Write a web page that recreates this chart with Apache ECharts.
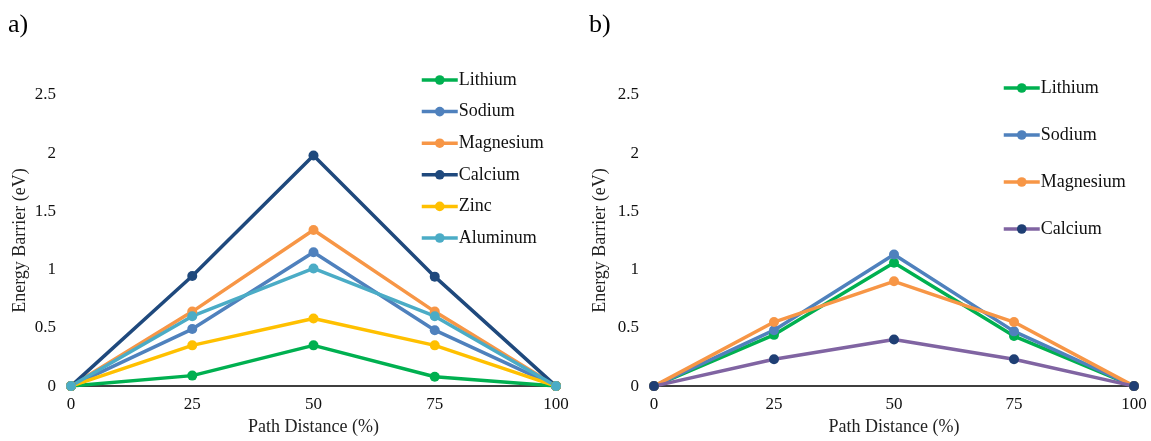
<!DOCTYPE html>
<html><head><meta charset="utf-8">
<script src="https://cdn.jsdelivr.net/npm/echarts@6/dist/echarts.min.js"></script>
<style>html,body{margin:0;padding:0;background:#fff}#c{width:1151px;height:441px}</style>
</head><body><div id="c"></div>
<script>
const xValues = [0, 25, 50, 75, 100];
// Panel a
const aLithium   = [0, 0.09, 0.35, 0.08, 0];
const aSodium    = [0, 0.49, 1.15, 0.48, 0];
const aMagnesium = [0, 0.64, 1.34, 0.64, 0];
const aCalcium   = [0, 0.945, 1.98, 0.94, 0];
const aZinc      = [0, 0.35, 0.58, 0.35, 0];
const aAluminum  = [0, 0.60, 1.01, 0.60, 0];
// Panel b
const bLithium   = [0, 0.44, 1.06, 0.43, 0];
const bSodium    = [0, 0.48, 1.13, 0.47, 0];
const bMagnesium = [0, 0.55, 0.90, 0.55, 0];
const bCalcium   = [0, 0.23, 0.40, 0.23, 0];
const yTicks = {min: 0, max: 2.5, interval: 0.5};
const xTicks = {min: 0, max: 100, interval: 25};

const FONT = '"Liberation Serif", "Times New Roman", serif';
const C = {Lithium:'#00B050', Sodium:'#4F81BD', Magnesium:'#F79646', Calcium:'#1F497D', Zinc:'#FFC000', Aluminum:'#4BACC6', Purple:'#8064A2', Navy:'#1F3F74'};

function pairs(vals){ return xValues.map((x,i)=>[x, vals[i]]); }
function mk(name, vals, idx, lineColor, markColor){
  return {
    name: name, type: 'line', xAxisIndex: idx, yAxisIndex: idx,
    data: pairs(vals), symbol: 'circle', symbolSize: 10,
    lineStyle: {width: 3.5, color: lineColor},
    itemStyle: {color: markColor || lineColor},
    emphasis: {disabled: true}, animation: false
  };
}
function xAx(idx){
  return {gridIndex: idx, type:'value', min:xTicks.min, max:xTicks.max, interval:xTicks.interval,
    axisLine:{show:true, onZero:false, lineStyle:{color:'#000', width:1.5}}, axisTick:{show:false}, splitLine:{show:false},
    axisLabel:{fontFamily:FONT, fontSize:17, color:'#111', margin:10},
    name:'Path Distance (%)', nameLocation:'middle', nameGap:28,
    nameTextStyle:{fontFamily:FONT, fontSize:18, color:'#222'}};
}
function yAx(idx, gap){
  return {gridIndex: idx, type:'value', min:yTicks.min, max:yTicks.max, interval:yTicks.interval,
    axisLine:{show:false}, axisTick:{show:false}, splitLine:{show:false},
    axisLabel:{fontFamily:FONT, fontSize:17, color:'#111', margin:15},
    name:'Energy Barrier (eV)', nameLocation:'middle', nameGap:gap,
    nameTextStyle:{fontFamily:FONT, fontSize:18, color:'#222'}};
}
const strip = n => n.replace(/^b:/, '');
const option = {
  backgroundColor:'#fff', animation:false,
  graphic:[
    {type:'text', left:8, top:12, style:{text:'a)', font:'26px ' + FONT, fill:'#000'}},
    {type:'text', left:589, top:12, style:{text:'b)', font:'26px ' + FONT, fill:'#000'}}
  ],
  grid:[
    {left:71, right:595, top:95, bottom:46},
    {left:654, right:17, top:95, bottom:46}
  ],
  xAxis:[xAx(0), xAx(1)],
  yAxis:[yAx(0, 42), yAx(1, 45)],
  legend:[
    {orient:'vertical', left:420, top:71, padding:0, itemWidth:36, itemHeight:12, itemGap:13.6,
     lineStyle:{width:3.5}, itemStyle:{borderWidth:0},
     data:['Lithium','Sodium','Magnesium','Calcium','Zinc','Aluminum'],
     textStyle:{fontFamily:FONT, fontSize:18, color:'#111', padding:[0,0,0,-4]}, selectedMode:false},
    {orient:'vertical', left:1002, top:79, padding:0, itemWidth:36, itemHeight:12, itemGap:29,
     lineStyle:{width:3.5}, itemStyle:{borderWidth:0},
     data:['b:Lithium','b:Sodium','b:Magnesium','b:Calcium'], formatter: strip,
     textStyle:{fontFamily:FONT, fontSize:18, color:'#111', padding:[0,0,0,-4]}, selectedMode:false}
  ],
  series:[
    mk('Lithium', aLithium, 0, C.Lithium),
    mk('Sodium', aSodium, 0, C.Sodium),
    mk('Magnesium', aMagnesium, 0, C.Magnesium),
    mk('Calcium', aCalcium, 0, C.Calcium),
    mk('Zinc', aZinc, 0, C.Zinc),
    mk('Aluminum', aAluminum, 0, C.Aluminum),
    mk('b:Lithium', bLithium, 1, C.Lithium),
    mk('b:Sodium', bSodium, 1, C.Sodium),
    mk('b:Magnesium', bMagnesium, 1, C.Magnesium),
    mk('b:Calcium', bCalcium, 1, C.Purple, C.Navy)
  ]
};
const chart = echarts.init(document.getElementById('c'), null, {renderer:'canvas'});
chart.setOption(option);
</script></body></html>
